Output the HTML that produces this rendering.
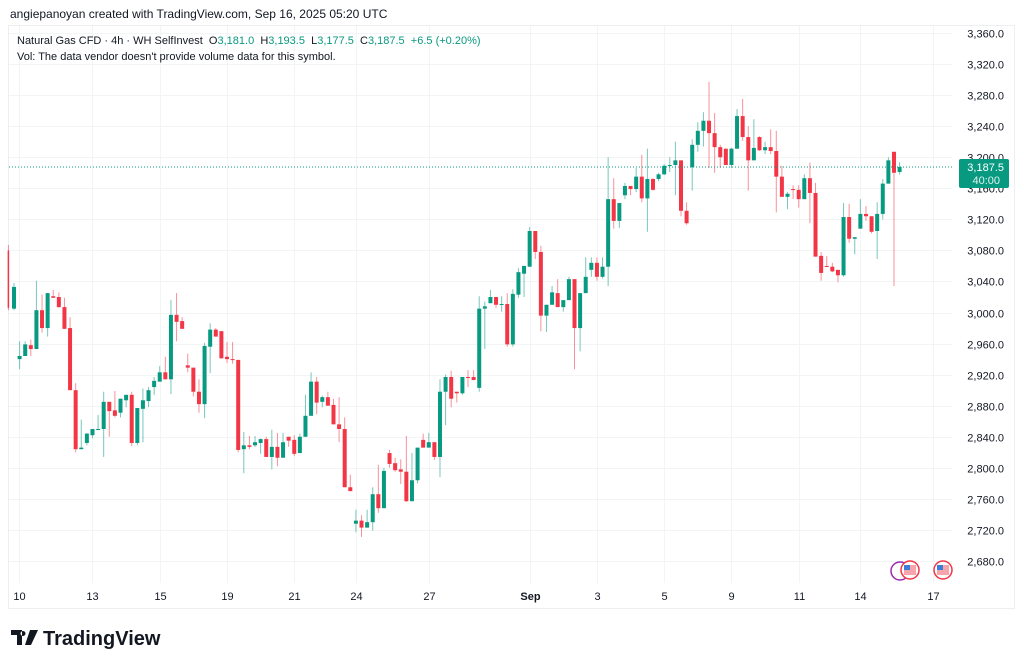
<!DOCTYPE html>
<html><head><meta charset="utf-8"><style>
body{margin:0;background:#fff;width:1024px;height:665px;overflow:hidden;font-family:"Liberation Sans",sans-serif}
svg{display:block}
text{white-space:pre}
</style></head><body>
<svg id="chart" width="1024" height="665" viewBox="0 0 1024 665" xmlns="http://www.w3.org/2000/svg">
<text x="10" y="18" font-size="12" fill="#131722" font-family="Liberation Sans, sans-serif">angiepanoyan created with TradingView.com, Sep 16, 2025 05:20 UTC</text>
<rect x="8.5" y="25.5" width="1006" height="583" fill="#fff" stroke="#eceef2"/>
<g id="grid"></g>
<g id="candles"></g>
<line id="lastline" x1="9" x2="952" stroke="#089981" stroke-width="1" stroke-dasharray="1,2"/>
<g id="yaxis"></g>
<g id="xaxis"></g>
<g id="lastlabel"></g>
<text x="17" y="44" font-size="11" fill="#131722" xml:space="preserve">Natural Gas CFD · 4h · WH SelfInvest  O<tspan fill="#089981">3,181.0</tspan>  H<tspan fill="#089981">3,193.5</tspan>  L<tspan fill="#089981">3,177.5</tspan>  C<tspan fill="#089981">3,187.5</tspan>  <tspan fill="#089981">+6.5 (+0.20%)</tspan></text>
<text x="17" y="60" font-size="11" fill="#131722">Vol: The data vendor doesn't provide volume data for this symbol.</text>
<g>
<circle cx="900" cy="571" r="9" fill="#fff" stroke="#9c27b0" stroke-width="1.5"/>
<circle cx="910" cy="570" r="9" fill="#fff" stroke="#f23645" stroke-width="1.5"/>
<rect x="904" y="565" width="12" height="10" fill="#f7a5ab"/><rect x="904" y="565" width="6" height="5" fill="#3b7dd8"/>
<circle cx="943" cy="570" r="9" fill="#fff" stroke="#f23645" stroke-width="1.5"/>
<rect x="937" y="565" width="12" height="10" fill="#f7a5ab"/><rect x="937" y="565" width="6" height="5" fill="#3b7dd8"/>
</g>
<g>
<path d="M11 630h11v15h-5v-10h-6z M23 631a2.5 2.5 0 1 0 0.01 0z M30 630h8l-7 15h-6z" fill="#131722"/>
<text x="43" y="645" font-size="20" font-weight="bold" fill="#131722">TradingView</text>
</g>
</svg>
<script>
const opens=[3080,3005,2940,2944,2958,2953,3003,2980,3021,3020,3007,2980,2900,2824,2832,2842,2849,2850,2885,2874,2871,2887,2894,2832,2876,2886,2904,2911,2923,2914,2997,2989,2932,2929,2898,2882,2956,2978,2976,2943,2940,2939,2824,2829,2829,2832,2837,2814,2827,2813,2840,2836,2819,2840,2867,2911,2885,2891,2881,2856,2850,2775,2728,2732,2723,2730,2766,2748,2819,2806,2798,2795,2757,2784,2836,2826,2833,2814,2898,2917,2898,2896,2917,2917,2903,3005,3012,3020,3010,3011,2959,3023,3050,3059,3105,3078,2996,3010,3025,3007,3016,3043,2980,3025,3055,3064,3046,3059,3146,3118,3151,3163,3159,3175,3147,3172,3172,3178,3189,3190,3196,3131,3187,3216,3234,3247,3231,3213,3211,3190,3211,3253,3226,3196,3226,3209,3213,3208,3175,3149,3159,3158,3146,3173,3154,3073,3060,3059,3055,3048,3123,3095,3108,3127,3124,3105,3127,3166,3207,3181];
const highs=[3087,3038,2963,2963,2965,3041,3023,3025,3029,3026,3019,2994,2909,2862,2845,2850,2868,2898,2885,2899,2889,2894,2898,2877,2902,2904,2917,2931,2943,3016,3025,2994,2947,2929,2914,2961,2986,2980,2976,2962,2962,2939,2846,2841,2841,2838,2840,2849,2845,2845,2840,2842,2844,2894,2923,2917,2893,2898,2889,2891,2865,2791,2746,2739,2746,2775,2804,2800,2823,2813,2811,2841,2819,2826,2844,2845,2833,2914,2920,2925,2898,2917,2926,2926,3021,3014,3029,3020,3021,3025,3030,3057,3060,3110,3105,3086,3010,3034,3043,3016,3046,3043,3025,3071,3071,3071,3071,3200,3173,3141,3167,3163,3186,3203,3211,3173,3180,3191,3200,3220,3196,3142,3223,3245,3258,3297,3257,3216,3211,3212,3262,3275,3240,3249,3227,3220,3236,3234,3189,3155,3164,3164,3178,3193,3167,3078,3073,3064,3055,3141,3140,3097,3146,3137,3124,3142,3172,3200,3207,3193.5];
const lows=[3003,3003,2927,2944,2944,2953,2974,2969,3019,3006,2979,2900,2820,2824,2829,2838,2849,2814,2840,2865,2865,2878,2828,2829,2833,2878,2894,2911,2914,2895,2963,2979,2923,2892,2871,2864,2922,2969,2941,2935,2934,2820,2793,2824,2827,2818,2814,2798,2802,2813,2827,2815,2819,2840,2867,2869,2878,2880,2856,2833,2775,2770,2717,2711,2723,2719,2742,2748,2800,2795,2779,2756,2757,2780,2826,2826,2810,2788,2855,2878,2884,2894,2904,2913,2898,2953,3012,3006,3001,2956,2956,3019,3020,3059,3069,2976,2975,3010,3007,3001,3016,2927,2950,3025,3046,3041,3044,3034,3108,3109,3146,3151,3155,3142,3104,3157,3169,3177,3181,3151,3124,3113,3157,3207,3214,3186,3180,3186,3190,3186,3211,3221,3157,3196,3208,3204,3204,3129,3149,3133,3146,3135,3146,3115,3072,3041,3059,3052,3039,3046,3090,3075,3108,3118,3102,3069,3120,3166,3034,3177.5];
const closes=[3006,3033,2944,2959,2953,3003,2980,3025,3019,3007,2979,2900,2824,2826,2844,2850,2850,2885,2873,2867,2889,2894,2832,2877,2887,2900,2912,2923,2914,2997,2988,2979,2929,2898,2882,2957,2978,2969,2941,2940,2939,2823,2829,2827,2833,2837,2814,2827,2813,2833,2835,2818,2840,2867,2911,2884,2891,2880,2856,2850,2775,2770,2732,2723,2730,2766,2748,2796,2805,2797,2795,2757,2784,2826,2826,2833,2814,2898,2917,2889,2896,2917,2916,2913,3005,3008,3020,3010,3011,2959,3024,3052,3060,3105,3078,2996,3010,3026,3007,3016,3043,2980,3025,3046,3064,3046,3059,3146,3118,3141,3163,3159,3175,3147,3172,3158,3178,3189,3190,3196,3131,3115,3216,3234,3247,3231,3213,3200,3190,3211,3253,3226,3196,3212,3209,3213,3208,3175,3149,3153,3158,3146,3173,3154,3072,3051,3059,3053,3048,3123,3095,3097,3127,3124,3104,3127,3166,3196,3180,3187.5];
const priceTicks=[3360,3320,3280,3240,3200,3160,3120,3080,3040,3000,2960,2920,2880,2840,2800,2760,2720,2680];
const dateLabels=["10","13","15","19","21","24","27","Sep","3","5","9","11","14","17"];
const dateIndex=[1.9,15,27,39,51,62,75,93,105,117,129,141,152,165];
const lastPrice=3187.5;
const lastTimer="40:00";

const NS="http://www.w3.org/2000/svg";
const yScale=p=>33+(3360-p)*(528/680);
const xScale=i=>8.4+i*5.605;
function mk(tag,attrs,parent){const e=document.createElementNS(NS,tag);for(const k in attrs)e.setAttribute(k,attrs[k]);parent.appendChild(e);return e;}
const grid=document.getElementById('grid'),cg=document.getElementById('candles'),ya=document.getElementById('yaxis'),xa=document.getElementById('xaxis');
priceTicks.forEach(p=>{
  const y=Math.round(yScale(p))+0.5;
  const gl=mk('line',{x1:9,x2:952,y1:y,y2:y,stroke:'#f3f4f6'},grid);
  
  
  const t=mk('text',{x:1004,y:y+4,'font-size':11,'text-anchor':'end',fill:'#131722'},ya);
  t.textContent=p.toLocaleString('en-US',{minimumFractionDigits:1});
  
  
});
dateLabels.forEach((d,k)=>{
  const x=Math.round(xScale(dateIndex[k]))+0.5;
  const gl=mk('line',{x1:x,x2:x,y1:26,y2:583,stroke:'#f3f4f6'},grid);
  
  
  const t=mk('text',{x:x,y:600,'font-size':11,'text-anchor':'middle',fill:'#131722','font-weight':d==='Sep'?'bold':'normal'},xa);
  t.textContent=d;
  
  
});
for(let i=0;i<opens.length;i++){
  const up=closes[i]>=opens[i];
  const col=up?'#089981':'#f23645';
  const x=xScale(i);
  const g=mk('g',{},cg);
  
  
  mk('line',{x1:x,x2:x,y1:yScale(highs[i]),y2:yScale(lows[i]),stroke:col,'stroke-width':1,'stroke-opacity':0.55},g);
  const top=yScale(Math.max(opens[i],closes[i])),bot=yScale(Math.min(opens[i],closes[i]));
  const w=i===0?1.5:4;
  mk('rect',{x:x-w/2,y:top,width:w,height:Math.max(1,bot-top),fill:col},g);
}
const ly=yScale(lastPrice);
const ll=document.getElementById('lastline');ll.setAttribute('y1',ly);ll.setAttribute('y2',ly);
const lg=document.getElementById('lastlabel');
const lb=mk('rect',{x:959,y:ly-8,width:50,height:29,rx:2,fill:'#089981'},lg);


const lt=mk('text',{x:1004,y:ly+4,'font-size':11,'text-anchor':'end',fill:'#fff'},lg);lt.textContent=lastPrice.toLocaleString('en-US',{minimumFractionDigits:1});


const tt=mk('text',{x:1000,y:ly+17,'font-size':11,'text-anchor':'end',fill:'#e0f2ee'},lg);tt.textContent=lastTimer;


</script>
</body></html>
